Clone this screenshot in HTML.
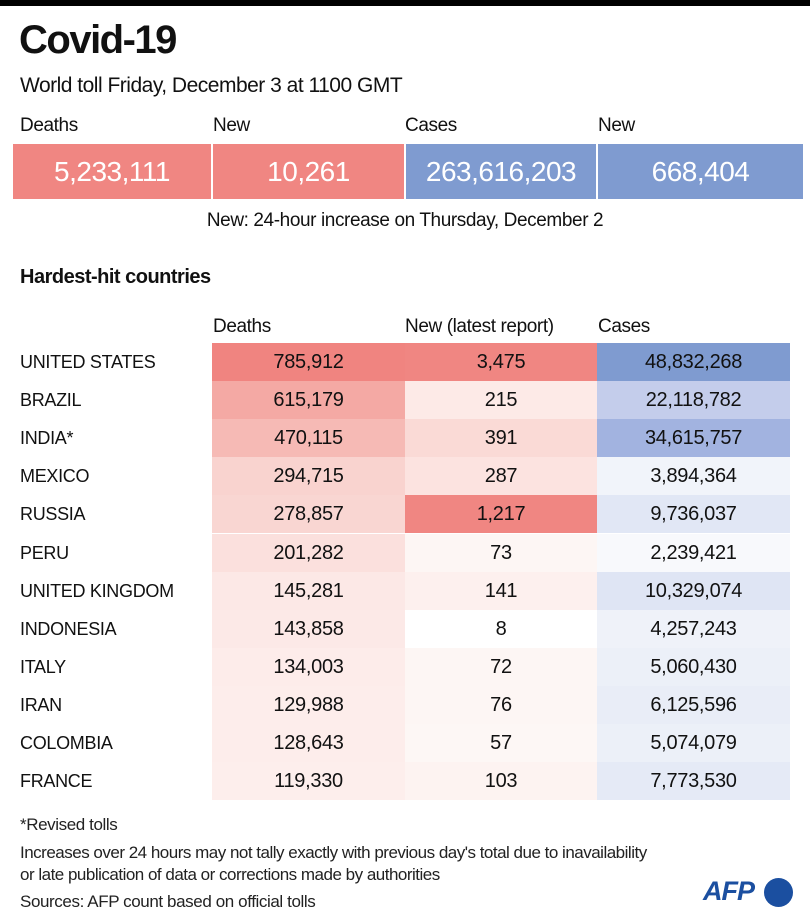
<!DOCTYPE html>
<html><head><meta charset="utf-8"><style>
body{margin:0;width:810px;height:924px;background:#fff;font-family:"Liberation Sans",sans-serif;color:#111;position:relative;overflow:hidden}
.a{position:absolute;white-space:nowrap}
.c{position:absolute;text-align:center;font-size:20px;line-height:38px;height:38px;letter-spacing:-0.3px}
.box{position:absolute;top:144px;height:55px;line-height:55px;color:#fff;font-size:28px;text-align:center;letter-spacing:-0.5px}
</style></head><body>
<div class="a" style="left:0;top:0;width:810px;height:6px;background:#000"></div>
<div class="a" style="left:19px;top:18px;font-size:40px;font-weight:bold;letter-spacing:-1.5px">Covid-19</div>
<div class="a" style="left:20px;top:74px;font-size:21px;letter-spacing:-0.5px">World toll Friday, December 3 at 1100 GMT</div>
<div class="a" style="left:20px;top:115px;font-size:19px;letter-spacing:-0.4px">Deaths</div>
<div class="a" style="left:213px;top:115px;font-size:19px;letter-spacing:-0.4px">New</div>
<div class="a" style="left:405px;top:115px;font-size:19px;letter-spacing:-0.4px">Cases</div>
<div class="a" style="left:598px;top:115px;font-size:19px;letter-spacing:-0.4px">New</div>
<div class="box" style="left:13px;width:198px;background:#f08682">5,233,111</div>
<div class="box" style="left:213px;width:191px;background:#f08682">10,261</div>
<div class="box" style="left:406px;width:190px;background:#7f9bd0">263,616,203</div>
<div class="box" style="left:598px;width:205px;background:#7f9bd0">668,404</div>
<div class="a" style="left:0;width:810px;text-align:center;top:210px;font-size:19px;letter-spacing:-0.4px">New: 24-hour increase on Thursday, December 2</div>
<div class="a" style="left:20px;top:266px;font-size:20px;font-weight:bold;letter-spacing:-0.5px">Hardest-hit countries</div>
<div class="a" style="left:213px;top:316px;font-size:19px;letter-spacing:-0.4px">Deaths</div>
<div class="a" style="left:405px;top:316px;font-size:19px;letter-spacing:-0.4px">New (latest report)</div>
<div class="a" style="left:598px;top:316px;font-size:19px;letter-spacing:-0.4px">Cases</div>
<div id="t"></div>
<script>
var rows=[
["UNITED STATES","785,912","#f08480","3,475","#f08682","48,832,268","#7f9bd0"],
["BRAZIL","615,179","#f4a9a4","215","#fdeae7","22,118,782","#c4cdeb"],
["INDIA*","470,115","#f6bab5","391","#fadad6","34,615,757","#a2b3e0"],
["MEXICO","294,715","#f9d3cf","287","#fce3e0","3,894,364","#f1f4fa"],
["RUSSIA","278,857","#f9d6d2","1,217","#f08682","9,736,037","#e1e7f5"],
["PERU","201,282","#fbe0dd","73","#fdf6f4","2,239,421","#f8f9fc"],
["UNITED KINGDOM","145,281","#fce8e6","141","#fdf0ee","10,329,074","#dfe5f4"],
["INDONESIA","143,858","#fce9e7","8","#ffffff","4,257,243","#eff2f9"],
["ITALY","134,003","#fdecea","72","#fdf6f4","5,060,430","#ecf0f8"],
["IRAN","129,988","#fdedeb","76","#fdf6f4","6,125,596","#e9edf7"],
["COLOMBIA","128,643","#fdedeb","57","#fdf7f5","5,074,079","#ecf0f8"],
["FRANCE","119,330","#fdeeec","103","#fdf3f1","7,773,530","#e5eaf6"]];
var h="";
rows.forEach(function(r,i){var y=343+i*38.1;
h+='<div class="c" style="left:20px;top:'+y+'px;text-align:left;font-size:18px">'+r[0]+'</div>';
if(i==0){h+='<div class="c" style="left:212px;width:385px;top:'+y+'px;background:#f08480"></div>';}
h+='<div class="c" style="left:212px;width:193px;top:'+y+'px;background:'+r[2]+'">'+r[1]+'</div>';
h+='<div class="c" style="left:405px;width:192px;top:'+y+'px;background:'+r[4]+'">'+r[3]+'</div>';
h+='<div class="c" style="left:597px;width:193px;top:'+y+'px;background:'+r[6]+'">'+r[5]+'</div>';});
document.getElementById("t").innerHTML=h;
</script>
<div class="a" style="left:20px;top:815px;font-size:17px;color:#222;letter-spacing:-0.4px">*Revised tolls</div>
<div class="a" style="left:20px;top:842px;font-size:17px;color:#222;letter-spacing:-0.5px;line-height:22px">Increases over 24 hours may not tally exactly with previous day's total due to inavailability<br>or late publication of data or corrections made by authorities</div>
<div class="a" style="left:20px;top:892px;font-size:17px;color:#222;letter-spacing:-0.4px">Sources: AFP count based on official tolls</div>
<div class="a" style="left:703px;top:876px;font-size:27px;font-weight:bold;font-style:italic;color:#1b4fa0;letter-spacing:-1px">AFP</div>
<div class="a" style="left:764px;top:878px;width:29px;height:29px;border-radius:50%;background:#1b4fa0"></div>
</body></html>
